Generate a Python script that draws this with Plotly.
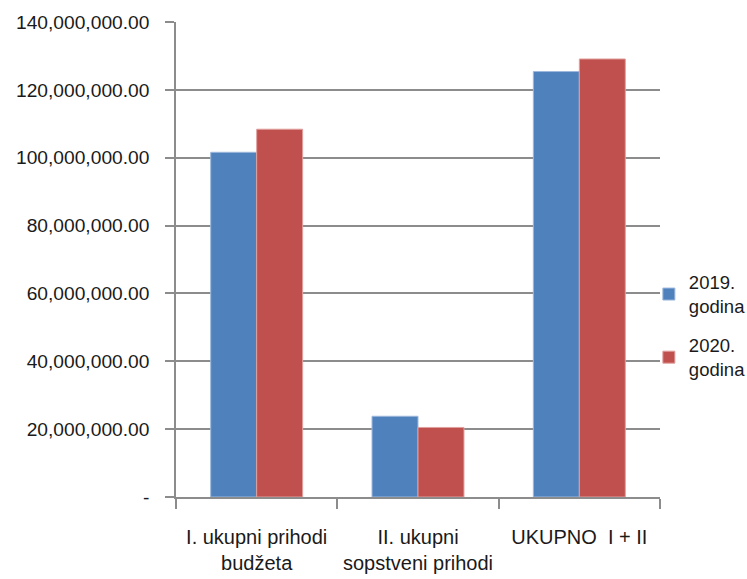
import plotly.graph_objects as go

categories = ["I. ukupni prihodi<br>budžeta", "II. ukupni<br>sopstveni prihodi", "UKUPNO  I + II"]
series_names = ["2019.<br>godina", "2020.<br>godina"]
values_2019 = [101600000, 23800000, 125400000]
values_2020 = [108400000, 20500000, 129100000]
tick_values = [0, 20000000, 40000000, 60000000, 80000000, 100000000, 120000000, 140000000]
tick_labels = ["-", "20,000,000.00", "40,000,000.00", "60,000,000.00", "80,000,000.00",
               "100,000,000.00", "120,000,000.00", "140,000,000.00"]
colors = ["#4F81BD", "#C0504D"]
edge_colors = ["#9DB8DC", "#E0A09E"]

font_family = "Liberation Sans, Arial, sans-serif"

fig = go.Figure()
for name, vals, c, ec in zip(series_names, [values_2019, values_2020], colors, edge_colors):
    fig.add_trace(go.Bar(x=categories, y=vals, name=name, legendgroup=name,
                         marker=dict(color=c, line=dict(color=ec, width=1))))

fig.update_layout(
    width=747, height=579,
    margin=dict(l=176, r=87, t=22, b=82, autoexpand=False),
    paper_bgcolor="white", plot_bgcolor="white",
    barmode="group", bargap=0.43, bargroupgap=0,
    font=dict(family=font_family, size=19.2, color="#1a1a1a"),
    showlegend=True,
    legend=dict(x=0.977, xanchor="left", y=0.36, yanchor="middle",
                font=dict(size=18.5), tracegroupgap=12, itemwidth=30,
                bgcolor="rgba(0,0,0,0)"),
)
fig.update_yaxes(range=[0, 140000000], tickvals=tick_values, ticktext=tick_labels,
                 showgrid=True, gridcolor="#8c8c8c", gridwidth=1.5,
                 showline=True, linecolor="#8c8c8c", linewidth=1.5,
                 ticks="outside", ticklen=9, tickcolor="#8c8c8c", tickwidth=1.5,
                 zeroline=False, ticklabelstandoff=12, automargin=False)
fig.update_xaxes(showline=True, linecolor="#8c8c8c", linewidth=1.5,
                 ticks="outside", ticklen=10, tickcolor="#8c8c8c", tickwidth=1.5,
                 tickson="boundaries", showgrid=False, tickangle=0,
                 tickfont=dict(size=20),
                 automargin=False, ticklabelstandoff=21)

fig.write_html("out.html", config={"displayModeBar": False},
               post_script="document.body.style.margin='0';")
